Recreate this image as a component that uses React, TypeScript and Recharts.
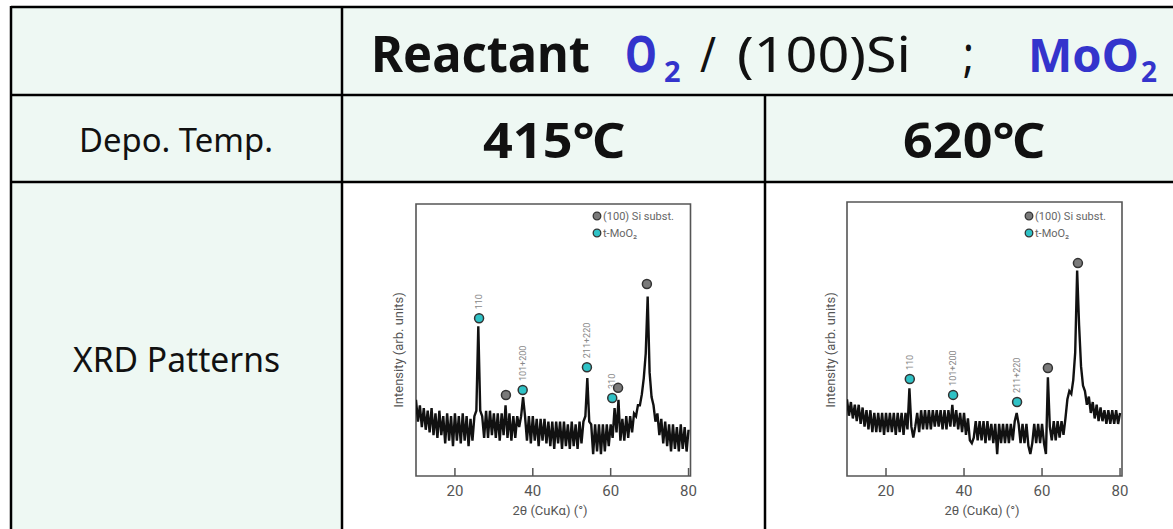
import React from "react";
import { ComposedChart, Line, Scatter, XAxis, YAxis, ReferenceArea } from "recharts";

// ---- data ----
const ANGLE_START = 10; // 2θ of first sample (deg)
const ANGLE_STEP = 0.5; // sampling step (deg)
const X_TICKS = [20, 40, 60, 80];

// 415 ℃ pattern, intensity (arb. units, 0-100 of frame)
const intensity415 = [
  28, 20, 26, 18, 25, 17, 24, 16, 25, 15,
  23, 14, 24, 15, 22, 12, 23, 13, 22, 11,
  23, 13, 22, 12, 23, 13, 22, 11, 21, 13,
  22, 24, 55, 24, 22, 14, 24, 14, 24, 15,
  23, 14, 23, 13, 23, 15, 26, 14, 23, 13,
  22, 14, 22, 18, 22, 29, 22, 13, 22, 12,
  22, 13, 21, 11, 21, 13, 21, 12, 20, 11,
  20, 10, 20, 12, 20, 10, 20, 11, 19, 10,
  20, 11, 19, 10, 20, 12, 20, 22, 36, 20,
  19, 8, 19, 9, 19, 8, 19, 9, 19, 11,
  19, 14, 25, 16, 28, 13, 21, 13, 22, 14,
  22, 16, 23, 22, 26, 26, 30, 36, 45, 66,
  38, 29, 26, 20, 23, 15, 21, 12, 20, 11,
  19, 9, 19, 10, 18, 9, 19, 10, 18, 9,
  17,
];

// 620 ℃ pattern
const intensity620 = [
  28, 22, 27, 21, 26, 20, 26, 19, 25, 18,
  24, 17, 24, 16, 23, 16, 23, 16, 23, 15,
  23, 16, 23, 16, 23, 15, 23, 16, 23, 15,
  23, 17, 32, 18, 14, 18, 23, 16, 24, 17,
  24, 17, 24, 17, 24, 18, 24, 18, 24, 17,
  24, 17, 24, 18, 26, 18, 24, 17, 23, 16,
  23, 15, 21, 13, 12, 14, 20, 13, 20, 13,
  20, 12, 20, 13, 19, 12, 19, 8, 19, 12,
  19, 12, 19, 12, 19, 13, 20, 23, 19, 12,
  19, 12, 19, 11, 8, 12, 19, 12, 19, 12,
  19, 12, 8, 36, 18, 13, 20, 13, 20, 14,
  20, 15, 21, 28, 31, 30, 35, 45, 75, 55,
  40, 33, 31, 26, 29, 23, 27, 21, 26, 20,
  25, 20, 24, 19, 24, 19, 24, 19, 24, 19,
  23,
];

// peak markers: kind "si" = (100) Si subst., "mo" = t-MoO2
const markers415 = [
  { x: 26.2, y: 58, kind: "mo", label: "110" },
  { x: 33.1, y: 29.8, kind: "si", label: "" },
  { x: 37.4, y: 31.6, kind: "mo", label: "101+200" },
  { x: 53.9, y: 40, kind: "mo", label: "211+220" },
  { x: 60.4, y: 28.7, kind: "mo", label: "310" },
  { x: 61.9, y: 32.4, kind: "si", label: "" },
  { x: 69.3, y: 70.6, kind: "si", label: "" },
];

const markers620 = [
  { x: 26.1, y: 35.4, kind: "mo", label: "110" },
  { x: 37.2, y: 29.6, kind: "mo", label: "101+200" },
  { x: 53.6, y: 27, kind: "mo", label: "211+220" },
  { x: 61.5, y: 39.4, kind: "si", label: "" },
  { x: 69.2, y: 77.7, kind: "si", label: "" },
];

const LEGEND_ITEMS = [
  { kind: "si", text: "(100) Si subst." },
  { kind: "mo", text: "t-MoO₂" },
];

const toSeries = (vals: number[]) =>
  vals.map((v, i) => ({ x: ANGLE_START + i * ANGLE_STEP, y: v }));

// ---- styles ----
const MINT = "#EEF8F3";
const BLUE = "#3434CC";
const INK = "#111";
const PLOT_INK = "#555";
const CYAN = "#2FC2C6";
const GRAYDOT = "#7a7a7a";
const TFONT = "'Noto Sans', 'Noto Sans CJK JP', sans-serif";
const PFONT = "Roboto, 'Liberation Sans', sans-serif";

const XTick = (props: any) => {
  const { x, y, payload } = props;
  return (
    <g>
      <line x1={x} x2={x} y1={y} y2={y - 8} stroke={PLOT_INK} strokeWidth={1.5} />
      <text x={x} y={y + 20} textAnchor="middle" fontSize={15} fill={PLOT_INK} fontFamily={PFONT}>
        {payload.value}
      </text>
    </g>
  );
};

const MarkerShape = (props: any) => {
  const { cx, cy, payload } = props;
  if (cx == null || cy == null) return <g />;
  const fill = payload.kind === "si" ? GRAYDOT : CYAN;
  return (
    <g>
      <circle cx={cx} cy={cy} r={4.5} fill={fill} stroke="#333" strokeWidth={1.5} />
      {payload.label ? (
        <text
          x={cx}
          y={cy - 9}
          transform={`rotate(-90 ${cx} ${cy - 9})`}
          fontSize={9}
          fill="#888"
          fontFamily={PFONT}
          dominantBaseline="central"
        >
          {payload.label}
        </text>
      ) : null}
    </g>
  );
};

type PlotProps = {
  left: number;
  top: number;
  values: number[];
  markers: any[];
  margin: { top: number; right: number; bottom: number; left: number };
};

const XrdPlot = ({ left, top, values, markers, margin }: PlotProps) => (
  <div style={{ position: "absolute", left, top }}>
    <ComposedChart width={330} height={334} data={toSeries(values)} margin={margin}>
      <XAxis
        type="number"
        dataKey="x"
        domain={[10, 80.5]}
        ticks={X_TICKS}
        allowDataOverflow
        axisLine={false}
        tickLine={false}
        tickSize={0}
        tickMargin={0}
        height={40}
        tick={<XTick />}
        interval={0}
      />
      <YAxis type="number" dataKey="y" domain={[0, 100]} hide allowDataOverflow />
      <ReferenceArea x1={10} x2={80.5} y1={0} y2={100} fill="none" fillOpacity={0} stroke={PLOT_INK} strokeWidth={1.6} />
      <Line
        type="linear"
        dataKey="y"
        stroke={INK}
        strokeWidth={2.4}
        dot={false}
        isAnimationActive={false}
      />
      <Scatter data={markers} dataKey="y" shape={<MarkerShape />} isAnimationActive={false} />
    </ComposedChart>
  </div>
);

const Legend = ({ x, y }: { x: number; y: number }) => (
  <g>
    {LEGEND_ITEMS.map((it, i) => (
      <g key={it.kind}>
        <circle cx={x} cy={y + i * 17} r={3.8} fill={it.kind === "si" ? GRAYDOT : CYAN} stroke="#333" strokeWidth={1.3} />
        <text x={x + 6} y={y + i * 17} dominantBaseline="central" fontSize={11} fill="#666" fontFamily={PFONT}>
          {it.text}
        </text>
      </g>
    ))}
  </g>
);

const AxisTitles = ({ cx, yx }: { cx: number; yx: number }) => (
  <g fontFamily={PFONT} fill={PLOT_INK}>
    <text x={cx} y={515} textAnchor="middle" fontSize={13}>
      2θ (CuKα) (°)
    </text>
    <text x={yx} y={350} textAnchor="middle" fontSize={13} transform={`rotate(-90 ${yx} 350)`} dominantBaseline="central">
      Intensity (arb. units)
    </text>
  </g>
);

export default function App() {
  return (
    <div style={{ position: "absolute", left: 0, top: 0, width: 1173, height: 529, overflow: "hidden", background: "#fff" }}>
      <svg width={1173} height={529} style={{ position: "absolute", left: 0, top: 0 }}>
        <rect x={0} y={0} width={1173} height={529} fill="#fff" />
        <rect x={11} y={7} width={1162} height={175} fill={MINT} />
        <rect x={11} y={182} width={331} height={347} fill={MINT} />
        <g stroke="#000" strokeWidth={2.5}>
          <line x1={11} x2={1173} y1={7} y2={7} />
          <line x1={11} x2={1173} y1={95} y2={95} />
          <line x1={11} x2={1173} y1={182} y2={182} />
          <line x1={11} x2={11} y1={6} y2={529} />
          <line x1={342} x2={342} y1={6} y2={529} />
          <line x1={765} x2={765} y1={95} y2={529} />
        </g>
        <g fontFamily={TFONT} fill={INK}>
          <text x={371} y={72} fontSize={50} fontWeight={700} textLength={219} lengthAdjust="spacingAndGlyphs">Reactant</text>
          <text x={625} y={72} fontSize={50} fontWeight={700} fill={BLUE}>
            <tspan textLength={32} lengthAdjust="spacingAndGlyphs">O</tspan>
            <tspan x={664} y={82} fontSize={29}>2</tspan>
          </text>
          <text x={700} y={72} fontSize={50} textLength={16} lengthAdjust="spacingAndGlyphs">/</text>
          <text x={737} y={72} fontSize={50} textLength={174} lengthAdjust="spacingAndGlyphs">(100)Si</text>
          <text x={963} y={72} fontSize={50} textLength={11} lengthAdjust="spacingAndGlyphs">;</text>
          <text x={1028} y={72} fontSize={47} fontWeight={700} fill={BLUE}>
            <tspan>MoO</tspan>
            <tspan x={1141} y={82} fontSize={28}>2</tspan>
          </text>

          <text x={79} y={152} fontSize={32} textLength={194} lengthAdjust="spacingAndGlyphs">Depo. Temp.</text>
          <text x={483} y={158} fontSize={49} fontWeight={700} textLength={142} lengthAdjust="spacingAndGlyphs">415℃</text>
          <text x={903} y={158} fontSize={49} fontWeight={700} textLength={142} lengthAdjust="spacingAndGlyphs">620℃</text>
          <text x={73} y={372} fontSize={34} textLength={207} lengthAdjust="spacingAndGlyphs">XRD Patterns</text>
        </g>
        <AxisTitles cx={550} yx={398} />
        <AxisTitles cx={982} yx={830} />
        <Legend x={597} y={216} />
        <Legend x={1029} y={216} />
      </svg>
      <XrdPlot left={380} top={195} values={intensity415} markers={markers415} margin={{ top: 9, right: 19.5, bottom: 13, left: 36 }} />
      <XrdPlot left={810} top={195} values={intensity620} markers={markers620} margin={{ top: 7, right: 18, bottom: 13, left: 37 }} />
    </div>
  );
}
